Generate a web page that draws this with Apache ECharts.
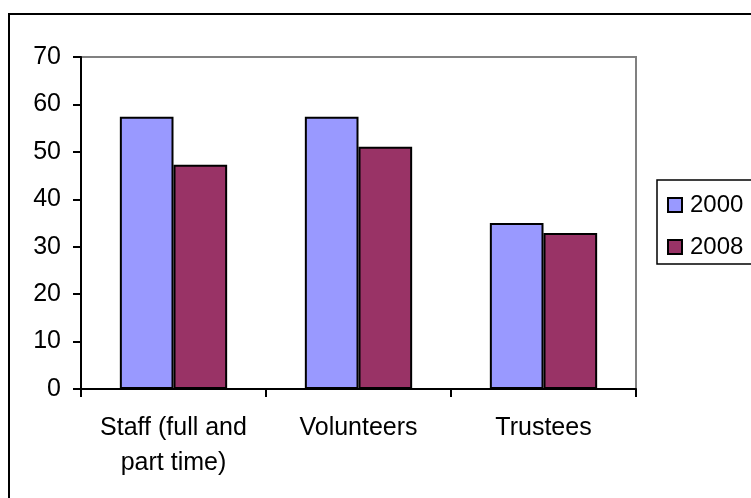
<!DOCTYPE html>
<html>
<head>
<meta charset="utf-8">
<script src="https://cdn.jsdelivr.net/npm/echarts@6/dist/echarts.min.js"></script>
<style>
  html, body { margin: 0; padding: 0; background: #fff; }
  #chart { width: 751px; height: 498px; }
</style>
</head>
<body>
<div id="chart"></div>
<script>
// Staff, volunteers and trustees: 2000 vs 2008
const categories = ['Staff (full and\npart time)', 'Volunteers', 'Trustees'];
const seriesNames = ['2000', '2008'];
const values2000 = [57.4, 57.4, 35.0];
const values2008 = [47.3, 51.1, 32.9];
const yTicks = { min: 0, max: 70, interval: 10 };

const FONT = '"Liberation Sans", Arial, sans-serif';
const AXIS_FONT_SIZE = 25;
const LEGEND_FONT_SIZE = 24;
const chart = echarts.init(document.getElementById('chart'), null, { renderer: 'canvas' });

chart.setOption({
  backgroundColor: '#ffffff',
  animation: false,
  textStyle: { fontFamily: FONT, color: '#000' },
  graphic: [{
    type: 'rect',
    shape: { x: 9, y: 14, width: 800, height: 600 },
    style: { fill: 'none', stroke: '#000', lineWidth: 2 },
    z: 0
  }],
  grid: {
    left: 81, right: 115, top: 57, bottom: 109,
    show: true, borderColor: '#808080', borderWidth: 2, backgroundColor: '#fff'
  },
  legend: {
    orient: 'vertical',
    left: 657, top: 180,
    padding: [12, 20, 4, 10],
    itemGap: 16,
    itemWidth: 14, itemHeight: 14,
    icon: 'rect',
    borderColor: '#000', borderWidth: 1.5,
    textStyle: { fontFamily: FONT, fontSize: LEGEND_FONT_SIZE, color: '#000', lineHeight: 26, padding: [0, 0, 0, 3] },
    data: seriesNames
  },
  xAxis: {
    type: 'category',
    data: categories,
    axisLine: { lineStyle: { color: '#000', width: 2 } },
    axisTick: { show: true, alignWithLabel: false, length: 8, lineStyle: { color: '#000', width: 2 } },
    axisLabel: { fontFamily: FONT, fontSize: AXIS_FONT_SIZE, color: '#000', lineHeight: 35, margin: 22, interval: 0 }
  },
  yAxis: {
    type: 'value',
    min: yTicks.min, max: yTicks.max, interval: yTicks.interval,
    splitLine: { show: false },
    axisLine: { show: true, lineStyle: { color: '#000', width: 2 } },
    axisTick: { show: true, length: 8, lineStyle: { color: '#000', width: 2 } },
    axisLabel: { fontFamily: FONT, fontSize: AXIS_FONT_SIZE, color: '#000', margin: 20 }
  },
  series: [
    {
      name: seriesNames[0], type: 'bar', data: values2000,
      barGap: '0%', barCategoryGap: '42%',
      itemStyle: { color: '#9999FF', borderColor: '#000', borderWidth: 2 }
    },
    {
      name: seriesNames[1], type: 'bar', data: values2008,
      itemStyle: { color: '#993366', borderColor: '#000', borderWidth: 2 }
    }
  ]
});
</script>
</body>
</html>
